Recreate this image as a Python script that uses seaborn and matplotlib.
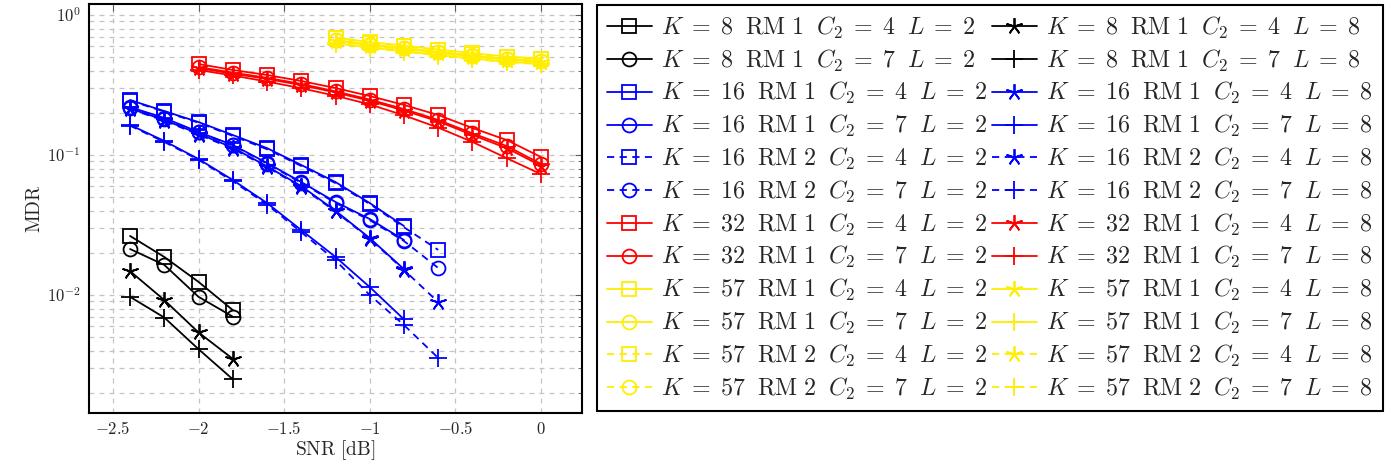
"""MDR versus SNR for several K / RM / C2 / L settings."""
import matplotlib.pyplot as plt
import numpy as np
import pandas as pd
import seaborn as sns
from matplotlib.ticker import FixedLocator, FuncFormatter, LogLocator, NullFormatter

# SNR grids [dB]
snr_k8 = [-2.4, -2.2, -2.0, -1.8]
snr_k16_rm1 = [-2.4, -2.2, -2.0, -1.8, -1.6, -1.4, -1.2, -1.0, -0.8]
snr_k16_rm2 = [-2.4, -2.2, -2.0, -1.8, -1.6, -1.4, -1.2, -1.0, -0.8, -0.6]
snr_k32 = [-2.0, -1.8, -1.6, -1.4, -1.2, -1.0, -0.8, -0.6, -0.4, -0.2, 0.0]
snr_k57 = [-1.2, -1.0, -0.8, -0.6, -0.4, -0.2, 0.0]

# MDR values
mdr_k8_c4_l2 = [0.0264, 0.0187, 0.0124, 0.0078]
mdr_k8_c7_l2 = [0.0213, 0.0164, 0.0097, 0.0070]
mdr_k8_c4_l8 = [0.0148, 0.0092, 0.0054, 0.0035]
mdr_k8_c7_l8 = [0.0097, 0.0069, 0.0041, 0.0025]

mdr_k16_rm1_c4_l2 = [0.247, 0.206, 0.172, 0.139, 0.112, 0.0849, 0.0641, 0.0454, 0.0311]
mdr_k16_rm1_c7_l2 = [0.220, 0.184, 0.146, 0.118, 0.0877, 0.0641, 0.0462, 0.0349, 0.0247]
mdr_k16_rm1_c4_l8 = [0.215, 0.178, 0.142, 0.113, 0.083, 0.060, 0.040, 0.0255, 0.0153]
mdr_k16_rm1_c7_l8 = [0.164, 0.126, 0.0936, 0.0663, 0.0454, 0.0291, 0.0187, 0.0114, 0.0067]
mdr_k16_rm2_c4_l2 = [0.245, 0.204, 0.170, 0.137, 0.110, 0.0835, 0.0630, 0.0447, 0.0305, 0.0210]
mdr_k16_rm2_c7_l2 = [0.218, 0.182, 0.145, 0.117, 0.0868, 0.0633, 0.0455, 0.0343, 0.0243, 0.0156]
mdr_k16_rm2_c4_l8 = [0.213, 0.176, 0.140, 0.111, 0.082, 0.059, 0.0395, 0.0252, 0.0151, 0.0089]
mdr_k16_rm2_c7_l8 = [0.162, 0.124, 0.0925, 0.065, 0.0443, 0.0281, 0.0177, 0.0100, 0.0061, 0.00355]

mdr_k32_c4_l2 = [0.447, 0.405, 0.373, 0.338, 0.301, 0.264, 0.228, 0.193, 0.156, 0.128, 0.0968]
mdr_k32_c7_l2 = [0.425, 0.388, 0.356, 0.322, 0.285, 0.249, 0.213, 0.178, 0.143, 0.116, 0.0865]
mdr_k32_c4_l8 = [0.418, 0.381, 0.350, 0.316, 0.280, 0.244, 0.208, 0.174, 0.139, 0.112, 0.084]
mdr_k32_c7_l8 = [0.405, 0.370, 0.335, 0.300, 0.265, 0.230, 0.192, 0.157, 0.124, 0.095, 0.073]

mdr_k57_rm1_c4_l2 = [0.691, 0.641, 0.606, 0.567, 0.535, 0.505, 0.489]
mdr_k57_rm1_c7_l2 = [0.665, 0.617, 0.583, 0.546, 0.515, 0.487, 0.471]
mdr_k57_rm1_c4_l8 = [0.655, 0.607, 0.574, 0.537, 0.507, 0.479, 0.464]
mdr_k57_rm1_c7_l8 = [0.630, 0.585, 0.553, 0.518, 0.489, 0.463, 0.449]
mdr_k57_rm2_c4_l2 = [0.685, 0.636, 0.601, 0.562, 0.531, 0.501, 0.485]
mdr_k57_rm2_c7_l2 = [0.660, 0.612, 0.579, 0.542, 0.511, 0.483, 0.468]
mdr_k57_rm2_c4_l8 = [0.650, 0.602, 0.570, 0.533, 0.503, 0.476, 0.461]
mdr_k57_rm2_c7_l8 = [0.625, 0.580, 0.549, 0.514, 0.485, 0.460, 0.446]

# (K, RM, C2, L, snr, mdr) in drawing order
series = [
    (8, 1, 4, 2, snr_k8, mdr_k8_c4_l2),
    (8, 1, 4, 8, snr_k8, mdr_k8_c4_l8),
    (8, 1, 7, 2, snr_k8, mdr_k8_c7_l2),
    (8, 1, 7, 8, snr_k8, mdr_k8_c7_l8),
    (16, 1, 4, 2, snr_k16_rm1, mdr_k16_rm1_c4_l2),
    (16, 1, 4, 8, snr_k16_rm1, mdr_k16_rm1_c4_l8),
    (16, 1, 7, 2, snr_k16_rm1, mdr_k16_rm1_c7_l2),
    (16, 1, 7, 8, snr_k16_rm1, mdr_k16_rm1_c7_l8),
    (16, 2, 4, 2, snr_k16_rm2, mdr_k16_rm2_c4_l2),
    (16, 2, 4, 8, snr_k16_rm2, mdr_k16_rm2_c4_l8),
    (16, 2, 7, 2, snr_k16_rm2, mdr_k16_rm2_c7_l2),
    (16, 2, 7, 8, snr_k16_rm2, mdr_k16_rm2_c7_l8),
    (32, 1, 4, 2, snr_k32, mdr_k32_c4_l2),
    (32, 1, 4, 8, snr_k32, mdr_k32_c4_l8),
    (32, 1, 7, 2, snr_k32, mdr_k32_c7_l2),
    (32, 1, 7, 8, snr_k32, mdr_k32_c7_l8),
    (57, 1, 4, 2, snr_k57, mdr_k57_rm1_c4_l2),
    (57, 1, 4, 8, snr_k57, mdr_k57_rm1_c4_l8),
    (57, 1, 7, 2, snr_k57, mdr_k57_rm1_c7_l2),
    (57, 1, 7, 8, snr_k57, mdr_k57_rm1_c7_l8),
    (57, 2, 4, 2, snr_k57, mdr_k57_rm2_c4_l2),
    (57, 2, 4, 8, snr_k57, mdr_k57_rm2_c4_l8),
    (57, 2, 7, 2, snr_k57, mdr_k57_rm2_c7_l2),
    (57, 2, 7, 8, snr_k57, mdr_k57_rm2_c7_l8),
]

colors = {8: "black", 16: "blue", 32: "red", 57: "#ffee00"}
markers = {(4, 2): "s", (7, 2): "o", (4, 8): (5, 2, 0), (7, 8): "+"}
msizes = {(4, 2): 10, (7, 2): 10, (4, 8): 12, (7, 8): 13}

sns.set_style("white")
plt.rcParams["mathtext.fontset"] = "cm"
plt.rcParams["font.family"] = ["DejaVu Serif"]

fig = plt.figure(figsize=(13.97, 4.67), dpi=100)
ax = fig.add_axes([89 / 1397, 1 - 413 / 467, 493 / 1397, 409 / 467])
ax.set_yscale("log")

handles = {}
for k, rm, c2, l, snr, mdr in series:
    df = pd.DataFrame({"snr": snr, "mdr": mdr})
    label = (rf"$K\;=\;{k}\ \;\mathrm{{RM}}\ {rm}\ \;C_2\;=\;{c2}\ \;L\;=\;{l}$")
    sns.lineplot(
        data=df, x="snr", y="mdr", ax=ax,
        color=colors[k], linewidth=1.3,
        linestyle=(0, (4, 3)) if rm == 2 else "-",
        marker=markers[(c2, l)], markersize=msizes[(c2, l)],
        markerfacecolor="none", markeredgecolor=colors[k], markeredgewidth=1.3,
        label=label, legend=False,
    )
    handles[(k, rm, c2, l)] = (ax.lines[-1], label)

ax.set_xlim(-2.64, 0.24)
ax.set_ylim(10 ** -2.843, 10 ** 0.079)
ax.xaxis.set_major_locator(FixedLocator([-2.5, -2, -1.5, -1, -0.5, 0]))
ax.xaxis.set_major_formatter(FuncFormatter(lambda v, _: f"${v:g}$"))
ax.yaxis.set_major_locator(LogLocator(base=10, numticks=10))
ax.yaxis.set_minor_locator(LogLocator(base=10, subs=np.arange(2, 10), numticks=20))
ax.yaxis.set_major_formatter(FuncFormatter(lambda v, _: f"$10^{{{int(round(np.log10(v)))}}}$"))
ax.yaxis.set_minor_formatter(NullFormatter())

grid_kw = dict(color="#c4c4c4", linestyle=(0, (4, 4)), linewidth=0.9)
ax.grid(True, which="major", axis="x", **grid_kw)
ax.grid(True, which="both", axis="y", **grid_kw)
ax.set_axisbelow(True)
ax.tick_params(which="both", direction="in", top=True, right=True,
               color="0.35", labelsize=12, pad=6)
ax.tick_params(which="major", length=5, width=0.8)
ax.tick_params(which="minor", length=3, width=0.6)
for sp in ax.spines.values():
    sp.set_color("black")
    sp.set_linewidth(1.5)

ax.set_xlabel(r"$\mathrm{SNR\ [dB]}$", fontsize=14, labelpad=0)
ax.set_ylabel(r"$\mathrm{MDR}$", fontsize=14, labelpad=2)

# legend: first column L = 2, second column L = 8
keys = [key[:3] for key in handles if key[3] == 2]
order = [key + (2,) for key in keys] + [key + (8,) for key in keys]
leg = fig.legend(
    [handles[key][0] for key in order], [handles[key][1] for key in order],
    loc="upper left", bbox_to_anchor=(597 / 1397, 1 - 5 / 467), ncol=2,
    frameon=True, fancybox=False, edgecolor="black", framealpha=1,
    fontsize=17.3, handlelength=1.9, handletextpad=0.38, columnspacing=0.15,
    labelspacing=0.28, borderpad=0.4, borderaxespad=0,
)
leg.get_frame().set_linewidth(1.5)

fig.savefig("out.png", dpi=100)
